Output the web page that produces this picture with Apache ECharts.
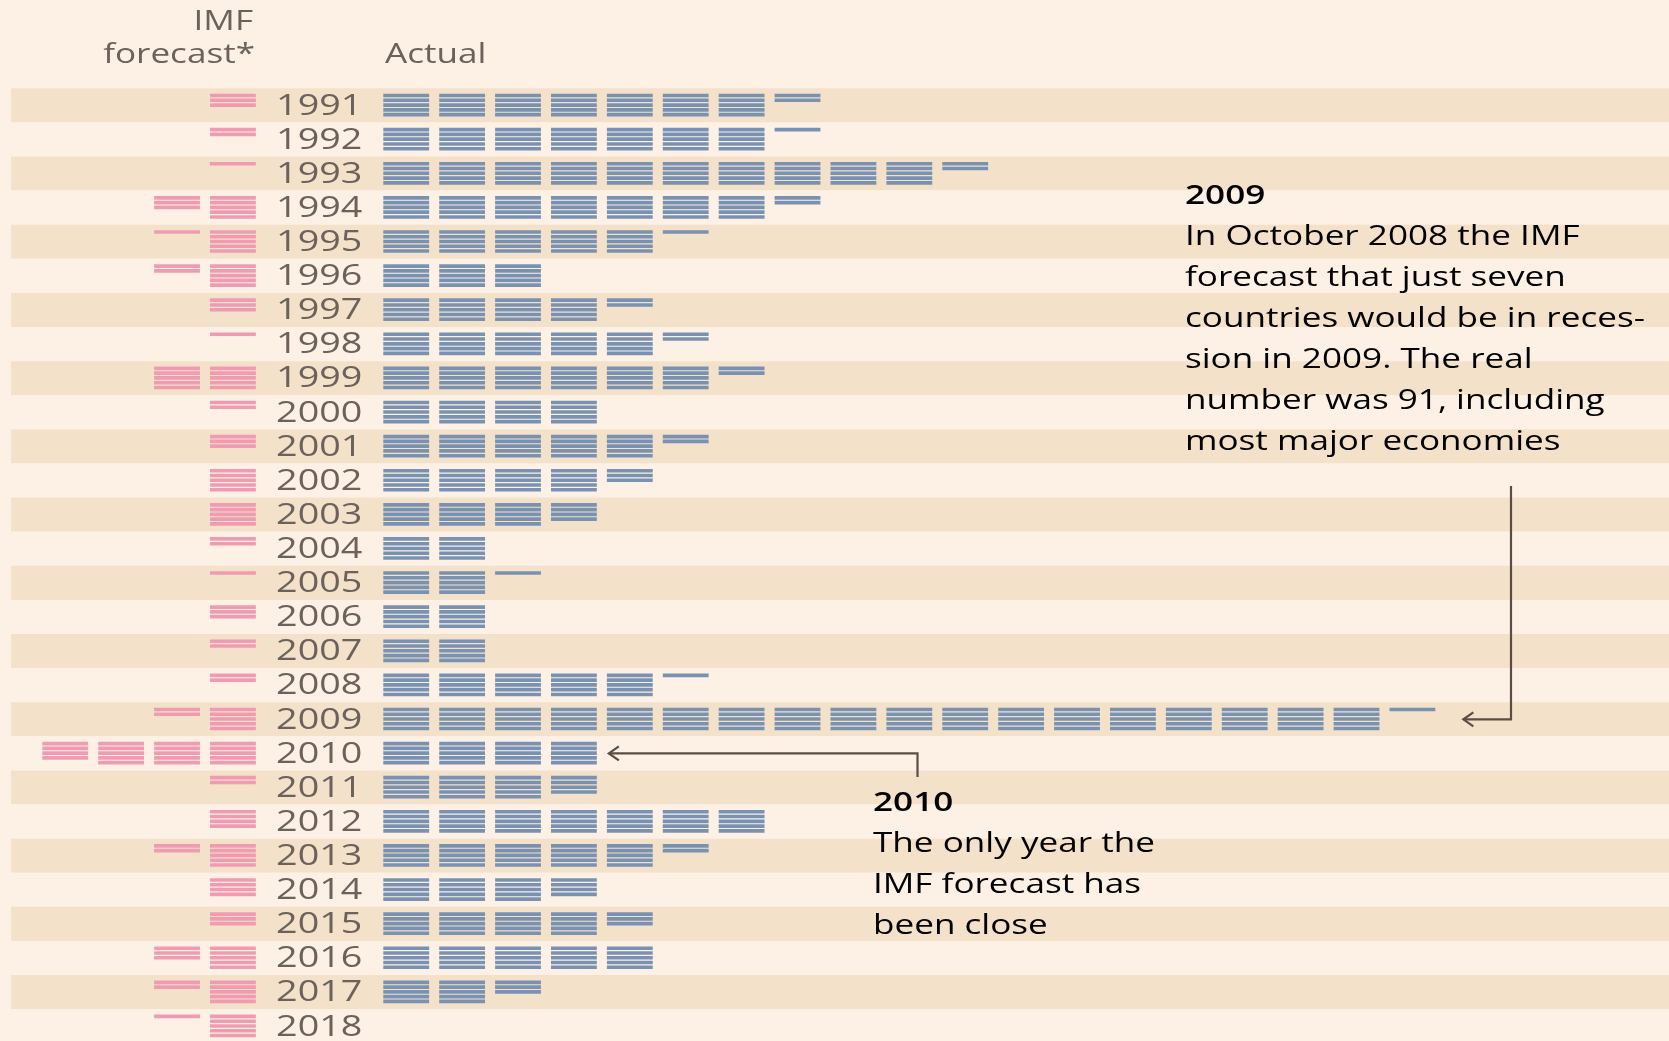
<!DOCTYPE html>
<html>
<head>
<meta charset="utf-8">
<script src="https://cdn.jsdelivr.net/npm/echarts@6/dist/echarts.min.js"></script>
<style>
  html, body { margin: 0; padding: 0; background: #fdf1e6; }
  #chart { width: 1669px; height: 1041px; }
</style>
</head>
<body>
<div id="chart"></div>
<script>
// Number of countries in recession, by year
const years = ['1991', '1992', '1993', '1994', '1995', '1996', '1997', '1998', '1999', '2000',
  '2001', '2002', '2003', '2004', '2005', '2006', '2007', '2008', '2009', '2010',
  '2011', '2012', '2013', '2014', '2015', '2016', '2017', '2018'];
const forecast = [3, 2, 1, 8, 6, 7, 3, 1, 10, 2,
  3, 5, 5, 2, 1, 3, 2, 2, 7, 19,
  2, 4, 7, 4, 3, 8, 7, 6];
const actual = [37, 36, 52, 37, 26, 15, 22, 27, 32, 20,
  27, 23, 19, 10, 11, 10, 10, 26, 91, 20,
  19, 35, 27, 19, 23, 25, 13, 0];

const PER_BLOCK = 5;       // one block = five countries, one stripe each
const BLOCK_W = 4.1;       // block width in country units
const FORECAST_GAP = 11.4; // distance left of zero where forecast blocks end
const STRETCH = 1.3;       // the type in the original is set wide

const textColor = '#6b625c';
const darkText = '#3a3532';
const font = 'Open Sans';

function blockRenderer(side, color) {
  return function (params, api) {
    const n = api.value(0);
    const base = api.coord([0, api.value(1)]);
    const unit = api.size([1, 0])[0];
    const band = api.size([0, 1])[1];
    const h = band * 0.7;
    const pitch = h / PER_BLOCK;
    const top = base[1] - h / 2;
    const w = unit * BLOCK_W;
    const children = [];
    for (let i = 0; i < n; i++) {
      const b = Math.floor(i / PER_BLOCK);
      const s = i % PER_BLOCK;
      const x = side > 0
        ? base[0] + b * PER_BLOCK * unit
        : base[0] - FORECAST_GAP * unit - b * PER_BLOCK * unit - w;
      children.push({
        type: 'rect',
        shape: { x: x, y: top + s * pitch + 0.3, width: w, height: pitch * 0.76 },
        style: { fill: color }
      });
    }
    return { type: 'group', children: children };
  };
}

function yearLabel(params, api) {
  const p = api.coord([0, api.value(0)]);
  return {
    type: 'text',
    x: p[0] - 21,
    y: p[1] + 1,
    scaleX: STRETCH,
    style: {
      text: years[params.dataIndex],
      font: '500 29px "' + font + '"',
      fill: textColor,
      textAlign: 'right',
      textVerticalAlign: 'middle'
    }
  };
}

const chart = echarts.init(document.getElementById('chart'));

chart.setOption({
  backgroundColor: '#fdf1e6',
  animation: false,
  grid: { left: 11, right: 0, top: 88.3, height: 955, outerBoundsMode: 'none', containLabel: false },
  xAxis: { type: 'value', min: -33.3, max: 115, show: false },
  yAxis: {
    type: 'category',
    data: years,
    inverse: true,
    axisLine: { show: false },
    axisTick: { show: false },
    axisLabel: { show: false },
    splitLine: { show: false },
    splitArea: { show: true, interval: 0, areaStyle: { color: ['#f3e1ca', '#fdf1e6'] } }
  },
  series: [
    {
      name: 'IMF forecast',
      type: 'custom',
      renderItem: blockRenderer(-1, '#f09bb2'),
      encode: { x: 0, y: 1 },
      data: forecast.map((v, i) => [v, years[i]])
    },
    {
      name: 'Actual',
      type: 'custom',
      renderItem: blockRenderer(1, '#7a92b2'),
      encode: { x: 0, y: 1 },
      data: actual.map((v, i) => [v, years[i]])
    },
    {
      name: 'Year',
      type: 'custom',
      renderItem: yearLabel,
      encode: { y: 0 },
      data: years.map(y => [y])
    }
  ]
});

// annotations and arrows, anchored on data coordinates
const px = (v, y) => chart.convertToPixel({ gridIndex: 0 }, [v, y]);
const p09 = px(0, '2009');
const p10 = px(0, '2010');
const unit = px(1, '2009')[0] - p09[0];
const end09 = p09[0] + (Math.floor((actual[18] - 1) / PER_BLOCK) * PER_BLOCK + BLOCK_W) * unit;
const end10 = p10[0] + (Math.floor((actual[19] - 1) / PER_BLOCK) * PER_BLOCK + BLOCK_W) * unit;
const tip09 = end09 + 28;
const tip10 = end10 + 12;
const arrowStyle = { stroke: '#5b4d45', lineWidth: 2.2, fill: null };

function head(x, y) {
  return {
    type: 'polyline',
    shape: { points: [[x + 10, y - 7], [x, y], [x + 10, y + 7]] },
    style: arrowStyle
  };
}

const annoRich = {
  h: { fontFamily: font, fontSize: 27, fontWeight: 600, color: darkText, lineHeight: 41 },
  t: { fontFamily: font, fontSize: 27, color: darkText, lineHeight: 41 }
};

function label(text, x, y, align) {
  return {
    type: 'text', x: x, y: y, scaleX: STRETCH,
    style: { text: text, font: '27px "' + font + '"', fill: textColor, textAlign: align, textVerticalAlign: 'middle' }
  };
}

chart.setOption({
  graphic: [
    label('IMF', 253, 22, 'right'),
    label('forecast*', 255, 55, 'right'),
    label('Actual', 385, 55, 'left'),
    { type: 'text', x: 1185, y: 176, scaleX: STRETCH,
      style: {
        text: '{h|2009}\n{t|In October 2008 the IMF}\n{t|forecast that just seven}\n{t|countries would be in reces-}\n{t|sion in 2009. The real}\n{t|number was 91, including}\n{t|most major economies}',
        rich: annoRich
      } },
    { type: 'text', x: 873, y: 783, scaleX: STRETCH,
      style: {
        text: '{h|2010}\n{t|The only year the}\n{t|IMF forecast has}\n{t|been close}',
        rich: annoRich
      } },
    { type: 'polyline', shape: { points: [[1511, 486], [1511, p09[1]], [tip09, p09[1]]] }, style: arrowStyle },
    head(tip09, p09[1]),
    { type: 'polyline', shape: { points: [[917.5, 777], [917.5, p10[1]], [tip10, p10[1]]] }, style: arrowStyle },
    head(tip10, p10[1])
  ]
});
</script>
</body>
</html>
